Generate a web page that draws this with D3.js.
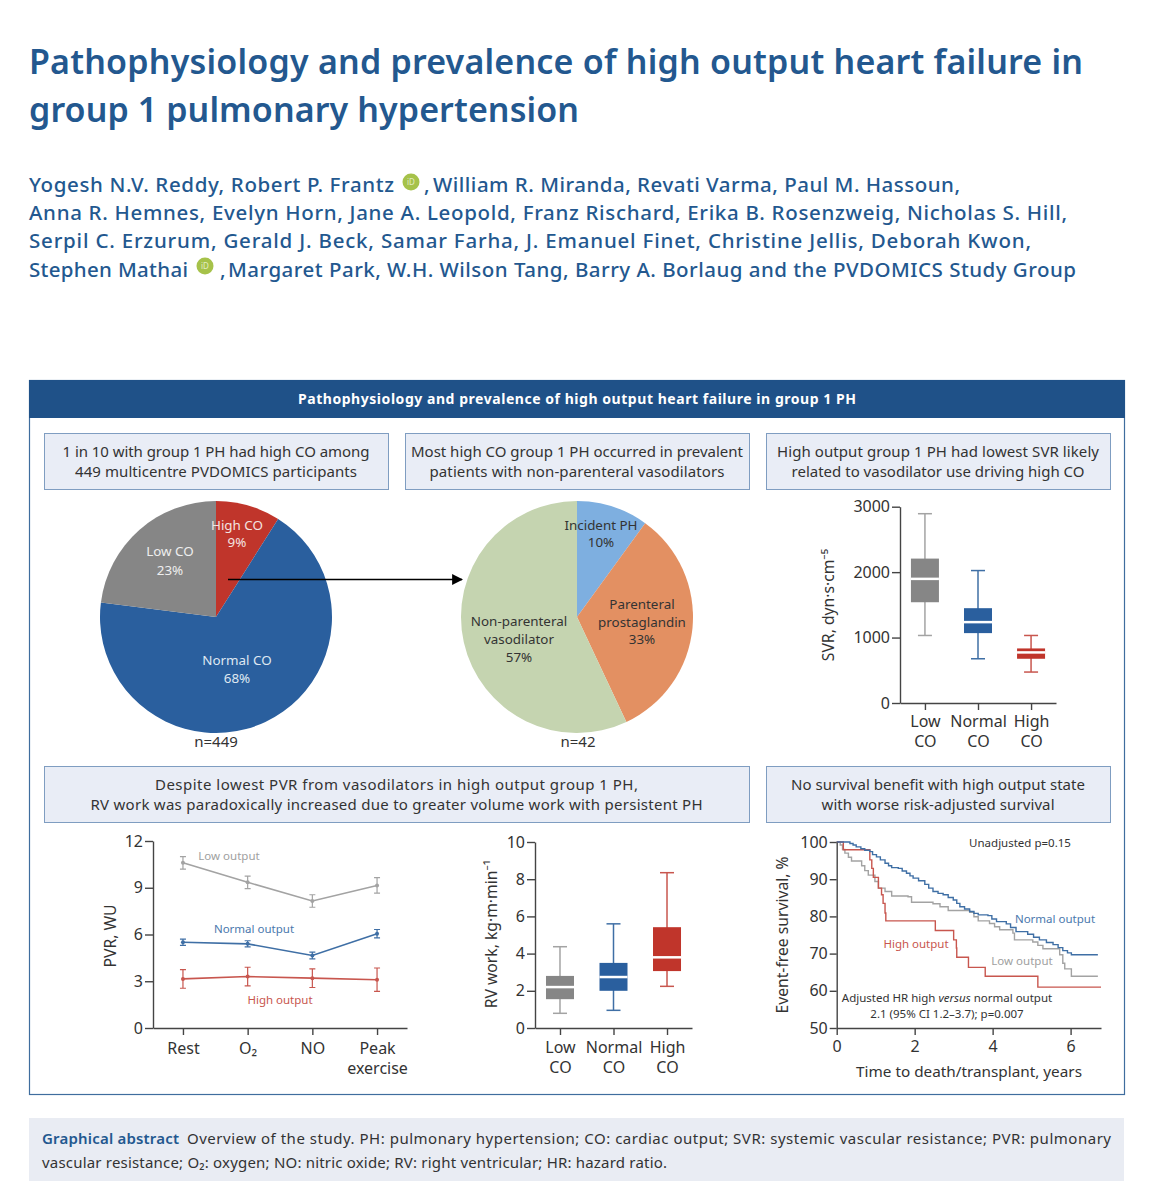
<!DOCTYPE html>
<html>

<head>
    <meta charset="utf-8">
    <title>High output heart failure in group 1 PH</title>
    <script src="https://cdn.jsdelivr.net/npm/d3@7"></script>
    <style>
        body { margin: 0; background: #fff; }
        text { font-family: "Noto Sans", sans-serif; }
    </style>
</head>

<body>
    <div id="chart"></div>
    <script>
        // pie charts
        var pieCoLabels = ["High CO", "Normal CO", "Low CO"];
        var pieCoValues = [9, 68, 23];
        var pieHighLabels = ["Incident PH", "Parenteral prostaglandin", "Non-parenteral vasodilator"];
        var pieHighValues = [10, 33, 57];

        // box plots: whisker low, q1, median, q3, whisker high
        var boxGroups = ["Low CO", "Normal CO", "High CO"];
        var svrTicks = [0, 1000, 2000, 3000];
        var svrLow = [1032, 1540, 1897, 2207, 2893];
        var svrNormal = [676, 1068, 1236, 1449, 2024];
        var svrHigh = [473, 676, 773, 834, 1032];
        var rvTicks = [0, 2, 4, 6, 8, 10];
        var rvLow = [0.79, 1.55, 2.2, 2.8, 4.37];
        var rvNormal = [0.95, 2.0, 2.74, 3.5, 5.6];
        var rvHigh = [2.24, 3.06, 3.8, 5.42, 8.35];

        // PVR lines
        var pvrStages = ["Rest", "O₂", "NO", "Peak exercise"];
        var pvrTicks = [0, 3, 6, 9, 12];
        var pvrLow = [10.6, 9.35, 8.15, 9.15];
        var pvrLowErr = [0.4, 0.4, 0.4, 0.5];
        var pvrNormal = [5.5, 5.4, 4.65, 6.05];
        var pvrNormalErr = [0.2, 0.2, 0.22, 0.27];
        var pvrHigh = [3.15, 3.3, 3.2, 3.1];
        var pvrHighErr = [0.6, 0.6, 0.6, 0.75];

        // survival curves [years, % event free]
        var kmNormal = [[0, 100], [0.34, 99.6], [0.42, 99.2], [0.5, 98.7], [0.62, 98.2], [0.72, 97.8], [0.85, 97.4], [0.92, 96.6], [1.02, 96], [1.12, 95.2], [1.24, 94.3], [1.33, 93.6], [1.41, 93.1], [1.58, 92.9], [1.68, 92.2], [1.79, 91.6], [1.88, 90.9], [1.96, 90.3], [2.1, 89.6], [2.26, 88.6], [2.36, 87.6], [2.47, 86.7], [2.6, 86.2], [2.73, 85.8], [2.86, 85.1], [2.99, 84.4], [3.08, 83.5], [3.16, 82.6], [3.28, 82], [3.41, 81.3], [3.52, 80.8], [3.63, 80.4], [3.88, 80.2], [3.98, 79.3], [4.1, 78.6], [4.35, 78], [4.46, 77], [4.6, 75.9], [4.9, 75.2], [5.05, 74.4], [5.2, 73.7], [5.38, 73], [5.55, 72.4], [5.68, 71.6], [5.8, 70.8], [5.92, 70.2], [6.02, 69.7], [6.7, 69.7]];
        var kmLow = [[0, 100], [0.09, 99.2], [0.15, 98], [0.21, 97], [0.3, 95.9], [0.38, 94.9], [0.64, 93.6], [0.72, 92.3], [0.81, 91.1], [0.98, 89.4], [1.07, 87.6], [1.24, 86.7], [1.41, 85.5], [1.83, 85.3], [1.92, 83.8], [2.47, 83.4], [2.65, 82.6], [2.86, 81.6], [3.41, 81.1], [3.52, 79.9], [3.63, 78.8], [3.92, 78.1], [4.05, 77.2], [4.18, 76.4], [4.52, 75.5], [4.56, 73.7], [5.03, 73.1], [5.16, 72.2], [5.29, 71.3], [5.59, 71.3], [5.72, 69.7], [5.8, 67.4], [5.85, 65.9], [6.02, 63.9], [6.7, 63.9]];
        var kmHigh = [[0, 100], [0.17, 97.9], [0.85, 95.2], [0.9, 92.9], [0.94, 90.5], [1.07, 87.6], [1.15, 85.8], [1.19, 83.5], [1.24, 80.9], [1.26, 78.8], [2.53, 76.2], [3, 73.7], [3.07, 71.5], [3.08, 69], [3.38, 66.3], [3.81, 63.9], [5.16, 61], [6.78, 61]];
        var kmXTicks = [0, 2, 4, 6];
        var kmYTicks = [50, 60, 70, 80, 90, 100];

        var navy = "#1f5188", titleBlue = "#23588f", red = "#c0352b", grey = "#868686", blue = "#2a5f9e";
        var lineRed = "#c8564e", lineGrey = "#a3a3a3", lineBlue = "#3f6fa5", ink = "#333333";

        var svg = d3.select("#chart")
            .append("svg")
            .attr("width", 1153)
            .attr("height", 1200);

        // text helper, width is forced when a target length is given
        function label(x, y, str, size, color, anchor, length, weight) {
            var t = svg.append("text")
                .attr("x", x)
                .attr("y", y)
                .attr("text-anchor", anchor || "start")
                .style("font-size", size + "px")
                .style("fill", color || ink)
                .text(str);
            if (length) t.attr("textLength", length).attr("lengthAdjust", "spacing");
            if (weight) t.style("font-weight", weight);
            return t;
        }

        // title + authors
        label(29, 74, "Pathophysiology and prevalence of high output heart failure in", 34, titleBlue, "start", 1054, 600);
        label(29, 122, "group 1 pulmonary hypertension", 34, titleBlue, "start", 550, 600);
        label(29, 192, "Yogesh N.V. Reddy, Robert P. Frantz", 20.5, titleBlue, "start", 365, 500);
        label(424, 192, ",", 20.5, titleBlue, "start", null, 500);
        label(433, 192, "William R. Miranda, Revati Varma, Paul M. Hassoun,", 20.5, titleBlue, "start", 527, 500);
        label(29, 220, "Anna R. Hemnes, Evelyn Horn, Jane A. Leopold, Franz Rischard, Erika B. Rosenzweig, Nicholas S. Hill,", 20.5, titleBlue, "start", 1038, 500);
        label(29, 248, "Serpil C. Erzurum, Gerald J. Beck, Samar Farha, J. Emanuel Finet, Christine Jellis, Deborah Kwon,", 20.5, titleBlue, "start", 1002, 500);
        label(29, 277, "Stephen Mathai", 20.5, titleBlue, "start", 159, 500);
        label(220, 277, ",", 20.5, titleBlue, "start", null, 500);
        label(228, 277, "Margaret Park, W.H. Wilson Tang, Barry A. Borlaug and the PVDOMICS Study Group", 20.5, titleBlue, "start", 848, 500);

        // orcid badges
        [[411, 182], [205, 266]].forEach(function (p) {
            svg.append("circle").attr("cx", p[0]).attr("cy", p[1]).attr("r", 8.5).style("fill", "#a6c24a");
            label(p[0], p[1] + 3, "iD", 8, "#e4edc4", "middle");
        });

        // panel frame
        svg.append("rect").attr("x", 29.5).attr("y", 380.5).attr("width", 1095).attr("height", 714)
            .style("fill", "#fff").style("stroke", "#3f6d9e").style("stroke-width", 1.2);
        svg.append("rect").attr("x", 29).attr("y", 380).attr("width", 1096).attr("height", 38).style("fill", navy);
        label(577, 404, "Pathophysiology and prevalence of high output heart failure in group 1 PH", 14, "#fff", "middle", 558, 700);

        // heading boxes, line lengths fitted to the picture
        function headBox(x, y, w, h, line1, len1, line2, len2) {
            svg.append("rect").attr("x", x + 0.5).attr("y", y + 0.5).attr("width", w).attr("height", h)
                .style("fill", "#e9edf6").style("stroke", "#7f9dc1").style("stroke-width", 1);
            label(x + w / 2, y + 24, line1, 15, ink, "middle", len1);
            label(x + w / 2, y + 44, line2, 15, ink, "middle", len2);
        }
        headBox(44, 433, 344, 56, "1 in 10 with group 1 PH had high CO among", 307, "449 multicentre PVDOMICS participants", 282);
        headBox(405, 433, 344, 56, "Most high CO group 1 PH occurred in prevalent", 332, "patients with non-parenteral vasodilators", 295);
        headBox(766, 433, 344, 56, "High output group 1 PH had lowest SVR likely", 322, "related to vasodilator use driving high CO", 293);
        headBox(44, 766, 705, 56, "Despite lowest PVR from vasodilators in high output group 1 PH,", 483, "RV work was paradoxically increased due to greater volume work with persistent PH", 612);
        headBox(766, 766, 344, 56, "No survival benefit with high output state", 294, "with worse risk-adjusted survival", 233);

        // pies
        var pie = d3.pie().sort(null);
        var arc = d3.arc().innerRadius(0).outerRadius(116);

        function drawPie(cx, cy, values, colors) {
            svg.append("g")
                .attr("transform", "translate(" + cx + "," + cy + ")")
                .selectAll("path")
                .data(pie(values))
                .enter()
                .append("path")
                .attr("d", arc)
                .style("fill", function (d, i) { return colors[i]; });
        }
        drawPie(216, 617, pieCoValues, [red, blue, grey]);
        drawPie(577, 617, pieHighValues, ["#7eafe0", "#e39062", "#c5d4b0"]);

        label(237, 530, pieCoLabels[0], 13.4, "#f3e3e0", "middle");
        label(237, 547, pieCoValues[0] + "%", 13.4, "#f3e3e0", "middle");
        label(170, 556, pieCoLabels[2], 13.4, "#eeeeee", "middle");
        label(170, 575, pieCoValues[2] + "%", 13.4, "#eeeeee", "middle");
        label(237, 665, pieCoLabels[1], 13.4, "#dfe8f2", "middle");
        label(237, 683, pieCoValues[1] + "%", 13.4, "#dfe8f2", "middle");
        label(216, 747, "n=449", 15, ink, "middle");

        label(601, 530, pieHighLabels[0], 13.4, ink, "middle");
        label(601, 547, pieHighValues[0] + "%", 13.4, ink, "middle");
        label(642, 609, "Parenteral", 13.4, ink, "middle");
        label(642, 627, "prostaglandin", 13.4, ink, "middle");
        label(642, 644, pieHighValues[1] + "%", 13.4, ink, "middle");
        label(519, 626, "Non-parenteral", 13.4, ink, "middle");
        label(519, 644, "vasodilator", 13.4, ink, "middle");
        label(519, 662, pieHighValues[2] + "%", 13.4, ink, "middle");
        label(578, 747, "n=42", 15, ink, "middle");

        // arrow from the high CO slice
        svg.append("defs").append("marker")
            .attr("id", "head").attr("viewBox", "0 0 10 10").attr("refX", 9).attr("refY", 5)
            .attr("markerUnits", "userSpaceOnUse").attr("markerWidth", 11).attr("markerHeight", 11)
            .attr("orient", "auto")
            .append("path").attr("d", "M0,0L10,5L0,10Z").style("fill", "#000");
        svg.append("line").attr("x1", 228).attr("y1", 579.5).attr("x2", 462).attr("y2", 579.5)
            .style("stroke", "#000").style("stroke-width", 1.5).attr("marker-end", "url(#head)");

        // axes helpers
        function styleAxis(g) {
            g.selectAll("path, line").style("stroke", "#444").style("stroke-width", 1.4);
            g.selectAll("text").style("font-size", "16px").style("fill", ink);
        }

        function yAxis(x, scale, ticks) {
            var g = svg.append("g")
                .attr("transform", "translate(" + x + ",0)")
                .call(d3.axisLeft(scale).tickValues(ticks).tickFormat(d3.format("d")).tickSizeOuter(0).tickSizeInner(8).tickPadding(2));
            styleAxis(g);
        }

        function wrapBottom(y, scale, pad) {
            var g = svg.append("g")
                .attr("transform", "translate(0," + y + ")")
                .call(d3.axisBottom(scale).tickSizeOuter(0).tickSizeInner(7).tickPadding(pad));
            styleAxis(g);
            g.selectAll(".tick text").each(function (d) {
                var words = d.split(" "), t = d3.select(this);
                t.text(null);
                words.forEach(function (w, i) {
                    t.append("tspan").attr("x", 0).attr("dy", i ? 20 : "0.71em").text(w);
                });
            });
        }

        function yTitle(x, y, str) {
            label(0, 0, str, 15.7, ink, "middle").attr("transform", "translate(" + x + "," + y + ") rotate(-90)");
        }

        function boxPlot(scaleX, scaleY, group, v, color, wiskColor) {
            var cx = scaleX(group), w = 28, cap = 7;
            var g = svg.append("g");
            g.append("line").attr("x1", cx).attr("x2", cx).attr("y1", scaleY(v[0])).attr("y2", scaleY(v[4]))
                .style("stroke", wiskColor).style("stroke-width", 1.5);
            [v[0], v[4]].forEach(function (k) {
                g.append("line").attr("x1", cx - cap).attr("x2", cx + cap).attr("y1", scaleY(k)).attr("y2", scaleY(k))
                    .style("stroke", wiskColor).style("stroke-width", 1.5);
            });
            g.append("rect").attr("x", cx - w / 2).attr("width", w)
                .attr("y", scaleY(v[3])).attr("height", scaleY(v[1]) - scaleY(v[3]))
                .style("fill", color);
            g.append("line").attr("x1", cx - w / 2).attr("x2", cx + w / 2).attr("y1", scaleY(v[2])).attr("y2", scaleY(v[2]))
                .style("stroke", "#fff").style("stroke-width", 2.5);
        }

        // SVR
        var xSvr = d3.scalePoint().domain(boxGroups).range([900, 1056]).padding(0.47);
        var ySvr = d3.scaleLinear().domain([0, 3000]).range([703, 506.7]);
        boxPlot(xSvr, ySvr, boxGroups[0], svrLow, grey, lineGrey);
        boxPlot(xSvr, ySvr, boxGroups[1], svrNormal, blue, lineBlue);
        boxPlot(xSvr, ySvr, boxGroups[2], svrHigh, red, lineRed);
        yAxis(900, ySvr, svrTicks);
        wrapBottom(703, xSvr, 6);
        yTitle(834, 605, "SVR, dyn·s·cm⁻⁵");

        // RV work
        var xRv = d3.scalePoint().domain(boxGroups).range([535, 692]).padding(0.467);
        var yRv = d3.scaleLinear().domain([0, 10]).range([1028, 842]);
        boxPlot(xRv, yRv, boxGroups[0], rvLow, grey, lineGrey);
        boxPlot(xRv, yRv, boxGroups[1], rvNormal, blue, lineBlue);
        boxPlot(xRv, yRv, boxGroups[2], rvHigh, red, lineRed);
        yAxis(535, yRv, rvTicks);
        wrapBottom(1028, xRv, 7);
        yTitle(497, 934, "RV work, kg·m·min⁻¹");

        // PVR
        var xPvr = d3.scalePoint().domain(pvrStages).range([153, 407]).padding(0.463);
        var yPvr = d3.scaleLinear().domain([0, 12]).range([1028, 841]);
        var pvrLine = d3.line()
            .x(function (d, i) { return xPvr(pvrStages[i]); })
            .y(function (d) { return yPvr(d); });

        function pvrSeries(values, errs, color) {
            svg.append("path").attr("d", pvrLine(values))
                .style("fill", "none").style("stroke", color).style("stroke-width", 1.6);
            values.forEach(function (v, i) {
                var x = xPvr(pvrStages[i]), top = yPvr(v + errs[i]), bot = yPvr(v - errs[i]);
                svg.append("path")
                    .attr("d", "M" + (x - 3) + "," + top + "H" + (x + 3) + "M" + x + "," + top + "V" + bot + "M" + (x - 3) + "," + bot + "H" + (x + 3))
                    .style("fill", "none").style("stroke", color).style("stroke-width", 1.2);
                svg.append("circle").attr("cx", x).attr("cy", yPvr(v)).attr("r", 2).style("fill", color);
            });
        }
        pvrSeries(pvrLow, pvrLowErr, lineGrey);
        pvrSeries(pvrNormal, pvrNormalErr, lineBlue);
        pvrSeries(pvrHigh, pvrHighErr, lineRed);
        yAxis(153, yPvr, pvrTicks);
        wrapBottom(1028, xPvr, 8);
        yTitle(116, 936, "PVR, WU");
        label(229, 860, "Low output", 11.5, "#a0a0a0", "middle");
        label(254, 933, "Normal output", 11.5, "#4a78ad", "middle");
        label(280, 1004, "High output", 11.5, "#c8564e", "middle");

        // Kaplan-Meier
        var xKm = d3.scaleLinear().domain([0, 6.78]).range([836.7, 1101]);
        var yKm = d3.scaleLinear().domain([50, 100]).range([1028, 842]);
        var kmLine = d3.line()
            .x(function (d) { return xKm(d[0]); })
            .y(function (d) { return yKm(d[1]); })
            .curve(d3.curveStepAfter);
        [[kmLow, lineGrey], [kmHigh, lineRed], [kmNormal, lineBlue]].forEach(function (s) {
            svg.append("path").attr("d", kmLine(s[0]))
                .style("fill", "none").style("stroke", s[1]).style("stroke-width", 1.4);
        });
        styleAxis(svg.append("g").attr("transform", "translate(836.7,0)")
            .call(d3.axisLeft(yKm).tickValues(kmYTicks).tickFormat(d3.format("d")).tickSizeOuter(0).tickSizeInner(7).tickPadding(2)));
        styleAxis(svg.append("g").attr("transform", "translate(0,1028)")
            .call(d3.axisBottom(xKm).tickValues(kmXTicks).tickFormat(d3.format("d")).tickSizeOuter(0).tickSizeInner(7).tickPadding(6)));
        yTitle(788, 935, "Event-free survival, %");
        label(969, 1077, "Time to death/transplant, years", 15.3, ink, "middle");
        label(1020, 847, "Unadjusted p=0.15", 11.5, ink, "middle");
        label(1055, 923, "Normal output", 11.5, "#4a78ad", "middle");
        label(916, 948, "High output", 11.5, "#c8564e", "middle");
        label(1022, 965, "Low output", 11.5, "#a0a0a0", "middle");
        var hr = label(947, 1002, "", 11.5, ink, "middle");
        hr.append("tspan").text("Adjusted HR high ");
        hr.append("tspan").style("font-style", "italic").text("versus");
        hr.append("tspan").text(" normal output");
        label(947, 1018, "2.1 (95% CI 1.2–3.7); p=0.007", 11.5, ink, "middle");

        // footer
        svg.append("rect").attr("x", 29).attr("y", 1118).attr("width", 1095).attr("height", 63).style("fill", "#e9ecf3");
        label(42, 1144, "Graphical abstract", 15, titleBlue, "start", 137, 600);
        label(187, 1144, "Overview of the study. PH: pulmonary hypertension; CO: cardiac output; SVR: systemic vascular resistance; PVR: pulmonary", 15, ink, "start", 924);
        label(42, 1168, "vascular resistance; O₂: oxygen; NO: nitric oxide; RV: right ventricular; HR: hazard ratio.", 15, ink, "start", 625);
    </script>
</body>

</html>
